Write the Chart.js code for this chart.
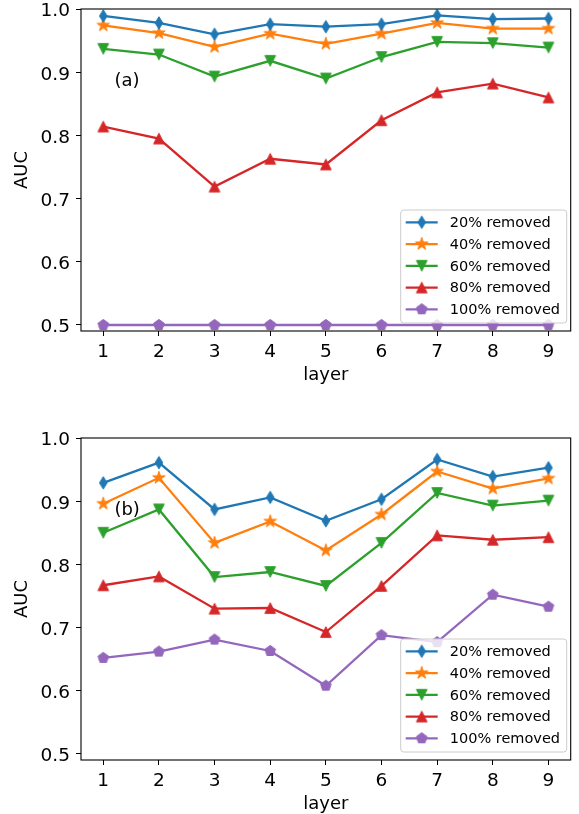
<!DOCTYPE html>
<html>
<head>
<meta charset="utf-8">
<script src="https://cdn.jsdelivr.net/npm/chart.js@4/dist/chart.umd.min.js"></script>
<style>
html,body{margin:0;padding:0;background:#fff;overflow:hidden;width:579px;height:814px;}
.box{position:absolute;left:0;width:579px;height:429px;}
</style>
</head>
<body>
<div class="box" style="top:0"><canvas id="c1"></canvas></div>
<div class="box" style="top:429px"><canvas id="c2"></canvas></div>
<script>
// ---- data ----
const layers = [1, 2, 3, 4, 5, 6, 7, 8, 9];
const yTicks = [0.5, 0.6, 0.7, 0.8, 0.9, 1.0];
const seriesLabels = ['20% removed', '40% removed', '60% removed', '80% removed', '100% removed'];

// panel (a)
const a20  = [0.989, 0.978, 0.960, 0.976, 0.972, 0.976, 0.990, 0.984, 0.985];
const a40  = [0.974, 0.962, 0.940, 0.961, 0.945, 0.961, 0.978, 0.969, 0.969];
const a60  = [0.937, 0.928, 0.893, 0.918, 0.890, 0.924, 0.948, 0.946, 0.939];
const a80  = [0.814, 0.795, 0.719, 0.763, 0.754, 0.824, 0.868, 0.882, 0.860];
const a100 = [0.500, 0.500, 0.500, 0.500, 0.500, 0.500, 0.500, 0.500, 0.500];

// panel (b)
const b20  = [0.929, 0.961, 0.887, 0.906, 0.869, 0.903, 0.966, 0.939, 0.953];
const b40  = [0.896, 0.937, 0.834, 0.868, 0.822, 0.879, 0.947, 0.920, 0.936];
const b60  = [0.850, 0.887, 0.780, 0.788, 0.766, 0.834, 0.913, 0.893, 0.901];
const b80  = [0.767, 0.781, 0.730, 0.731, 0.693, 0.766, 0.846, 0.839, 0.843];
const b100 = [0.652, 0.662, 0.681, 0.663, 0.608, 0.688, 0.677, 0.752, 0.733];

// ---- styles ----
const colors = ['#1f77b4', '#ff7f0e', '#2ca02c', '#d62728', '#9467bd'];
const markerTypes = ['d', '*', 'v', '^', 'p'];
const FONT = "'DejaVu Sans', sans-serif";

function makeMarker(type, color) {
  const c = document.createElement('canvas');
  c.width = 18; c.height = 18;
  const g = c.getContext('2d');
  g.translate(9, 9);
  g.fillStyle = color; g.strokeStyle = color; g.lineWidth = 1; g.lineJoin = 'miter';
  g.beginPath();
  if (type === 'd') {
    g.moveTo(0, -6.2); g.lineTo(3.8, 0); g.lineTo(0, 6.2); g.lineTo(-3.8, 0);
  } else if (type === '*') {
    const R = 6.6, r = R * 0.382;
    for (let i = 0; i < 10; i++) {
      const ang = -Math.PI / 2 + i * Math.PI / 5;
      const rad = i % 2 === 0 ? R : r;
      const px = rad * Math.cos(ang), py = rad * Math.sin(ang);
      if (i === 0) g.moveTo(px, py); else g.lineTo(px, py);
    }
  } else if (type === 'v') {
    g.moveTo(-5.3, -5.3); g.lineTo(5.3, -5.3); g.lineTo(0, 5.3);
  } else if (type === '^') {
    g.moveTo(-5.3, 5.3); g.lineTo(5.3, 5.3); g.lineTo(0, -5.3);
  } else if (type === 'p') {
    const R = 5.6;
    for (let i = 0; i < 5; i++) {
      const ang = -Math.PI / 2 + i * 2 * Math.PI / 5;
      const px = R * Math.cos(ang), py = R * Math.sin(ang);
      if (i === 0) g.moveTo(px, py); else g.lineTo(px, py);
    }
  }
  g.closePath(); g.fill(); g.stroke();
  return c;
}
const markers = markerTypes.map((t, i) => makeMarker(t, colors[i]));

const framePlugin = {
  id: 'frame',
  afterDatasetsDraw(chart) {
    const { ctx, chartArea: a } = chart;
    ctx.save();
    ctx.strokeStyle = '#000';
    ctx.lineWidth = 1.1;
    ctx.strokeRect(a.left, a.top, a.right - a.left, a.bottom - a.top);
    ctx.restore();
  },
  afterDraw(chart) {
    const { ctx, chartArea: a } = chart;
    const o = chart.options.plugins.frame;
    // panel label
    ctx.save();
    ctx.fillStyle = '#000';
    ctx.font = '18px ' + FONT;
    ctx.textAlign = 'left'; ctx.textBaseline = 'middle';
    ctx.fillText(o.panel, chart.scales.x.getPixelForValue(o.px), chart.scales.y.getPixelForValue(o.py) + 1.5);
    // legend
    const L = a.right - 170, R = a.right - 4, T = a.bottom - 121, B = a.bottom - 8;
    ctx.beginPath();
    ctx.roundRect(L, T, R - L, B - T, 3);
    ctx.fillStyle = 'rgba(255,255,255,0.8)';
    ctx.fill();
    ctx.strokeStyle = '#cccccc'; ctx.lineWidth = 1;
    ctx.stroke();
    chart.data.datasets.forEach((ds, i) => {
      const y = T + 12.3 + i * 21.75;
      ctx.beginPath();
      ctx.moveTo(L + 5, y); ctx.lineTo(L + 37, y);
      ctx.strokeStyle = ds.borderColor; ctx.lineWidth = 2.3;
      ctx.stroke();
      ctx.drawImage(markers[i], L + 21 - 9, y - 9);
      ctx.fillStyle = '#000';
      ctx.font = '14.5px ' + FONT;
      ctx.textAlign = 'left'; ctx.textBaseline = 'middle';
      ctx.fillText(ds.label, L + 49, y + 1);
    });
    ctx.restore();
  }
};

function makeChart(id, series, panel) {
  return new Chart(document.getElementById(id), {
    type: 'line',
    data: {
      datasets: series.map((vals, i) => ({
        label: seriesLabels[i],
        data: layers.map((x, j) => ({ x: x, y: vals[j] })),
        borderColor: colors[i],
        backgroundColor: colors[i],
        borderWidth: 2.3,
        pointStyle: markers[i],
        pointRadius: 6,
        tension: 0
      }))
    },
    options: {
      responsive: true,
      maintainAspectRatio: false,
      animation: false,
      layout: { padding: { top: 9, right: 6, bottom: 43, left: 0 } },
      plugins: {
        legend: { display: false },
        tooltip: { enabled: false },
        frame: { panel: panel, px: 1.2, py: 0.888 }
      },
      scales: {
        x: {
          type: 'linear', min: 0.6, max: 9.4,
          afterBuildTicks: s => { s.ticks = layers.map(v => ({ value: v })); },
          afterFit: s => { s.height = 55; s.paddingLeft = 0; s.paddingRight = 0; },
          grid: { drawOnChartArea: false, drawTicks: true, tickLength: 5, color: '#000', tickWidth: 1 },
          border: { display: false },
          ticks: { color: '#000', font: { family: FONT, size: 18.5 }, padding: 5, maxRotation: 0, autoSkip: false,
                   callback: v => String(v) },
          title: { display: true, text: 'layer', color: '#000', font: { family: FONT, size: 18 }, padding: 0 }
        },
        y: {
          min: 0.4905, max: 1.0,
          afterBuildTicks: s => { s.ticks = yTicks.map(v => ({ value: v })); },
          afterFit: s => { s.width = 81; s.paddingTop = 0; s.paddingBottom = 0; },
          grid: { drawOnChartArea: false, drawTicks: true, tickLength: 5, color: '#000', tickWidth: 1 },
          border: { display: false },
          ticks: { color: '#000', font: { family: FONT, size: 18.5 }, padding: 6, labelOffset: 2.5,
                   callback: v => Number(v).toFixed(1) },
          title: { display: true, text: 'AUC', color: '#000', font: { family: FONT, size: 18 }, padding: { top: 12, bottom: 0 } }
        }
      }
    },
    plugins: [framePlugin]
  });
}

makeChart('c1', [a20, a40, a60, a80, a100], '(a)');
makeChart('c2', [b20, b40, b60, b80, b100], '(b)');
</script>
</body>
</html>
